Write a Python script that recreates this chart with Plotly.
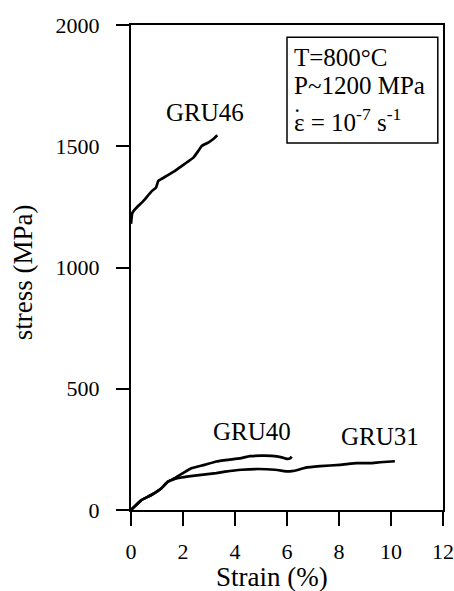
import plotly.graph_objects as go

# GRU46
gru46_strain = [0.0, 0.05, 0.15, 0.47, 0.80, 0.96, 1.05, 1.18, 1.63, 2.14, 2.40, 2.59, 2.72, 2.97, 3.19, 3.32]
gru46_stress = [1180, 1225, 1240, 1274, 1315, 1329, 1357, 1366, 1394, 1433, 1453, 1481, 1501, 1515, 1532, 1545]

# GRU40
gru40_strain = [0.0, 0.40, 0.78, 1.17, 1.42, 1.68, 2.0, 2.32, 2.83, 3.28, 3.74, 4.19, 4.58, 5.0, 5.41, 5.80, 5.99, 6.12, 6.18]
gru40_stress = [0, 41, 62, 90, 117, 131, 152, 172, 186, 200, 207, 213, 222, 224, 223, 217, 211, 213, 220]

# GRU31
gru31_strain = [0.0, 0.40, 0.78, 1.17, 1.42, 1.68, 1.94, 2.45, 3.28, 3.62, 4.26, 4.90, 5.54, 6.05, 6.18, 6.44, 6.69, 7.27, 8.04, 8.68, 9.19, 9.58, 10.15]
gru31_stress = [0, 41, 62, 90, 117, 128, 134, 142, 152, 158, 166, 169, 166, 159, 160, 166, 174, 181, 186, 193, 193, 197, 201]

x_ticks = [0, 2, 4, 6, 8, 10, 12]
y_ticks = [0, 500, 1000, 1500, 2000]

FONT = "Liberation Serif, Times New Roman, serif"

fig = go.Figure()
for xs, ys in [(gru46_strain, gru46_stress), (gru40_strain, gru40_stress), (gru31_strain, gru31_stress)]:
    fig.add_trace(go.Scatter(x=xs, y=ys, mode="lines",
                             line=dict(color="black", width=2.7, shape="spline", smoothing=0.4),
                             showlegend=False, hoverinfo="skip"))

labels = [("GRU46", 2.85, 1640), ("GRU40", 4.65, 322), ("GRU31", 9.58, 302)]
for txt, lx, ly in labels:
    fig.add_annotation(x=lx, y=ly, text=txt, showarrow=False,
                       font=dict(family=FONT, size=25, color="black"))

# condition box
fig.add_shape(type="rect", x0=6.0, x1=11.8, y0=1513, y1=1950,
              line=dict(color="black", width=1.5), fillcolor="white", layer="above")
box_lines = [("T=800°C", 1864), ("P~1200 MPa", 1752), ("ε = 10<sup>-7</sup> s<sup>-1</sup>", 1610)]
for txt, ty in box_lines:
    fig.add_annotation(x=6.2, y=ty, text=txt, showarrow=False, xanchor="left",
                       font=dict(family=FONT, size=25, color="black"))
# dot over epsilon
fig.add_annotation(x=6.39, y=1620, text="˙", showarrow=False, xanchor="center",
                   font=dict(family=FONT, size=25, color="black"))

# axis titles
fig.add_annotation(xref="paper", yref="paper", x=0.452, y=0, yshift=-67, yanchor="middle",
                   text="Strain (%)", showarrow=False,
                   font=dict(family=FONT, size=27, color="black"))
fig.add_annotation(xref="paper", yref="paper", x=-108 / 312, y=0.49, xanchor="center", yanchor="middle",
                   text="stress (MPa)", textangle=-90, showarrow=False,
                   font=dict(family=FONT, size=27, color="black"))

fig.update_xaxes(range=[0, 12], tickvals=x_ticks, ticktext=[str(v) for v in x_ticks],
                 showline=True, linecolor="black", linewidth=2, mirror=True,
                 ticks="outside", ticklen=14, tickwidth=2, tickcolor="black",
                 showgrid=False, zeroline=False,
                 tickfont=dict(family=FONT, size=22, color="black"),
                 ticklabelstandoff=7)
fig.update_yaxes(range=[0, 2000], tickvals=y_ticks, ticktext=[str(v) for v in y_ticks],
                 showline=True, linecolor="black", linewidth=2, mirror=True,
                 ticks="outside", ticklen=13, tickwidth=2, tickcolor="black",
                 showgrid=False, zeroline=False,
                 tickfont=dict(family=FONT, size=22, color="black"),
                 ticklabelstandoff=12)

fig.update_layout(width=454, height=591, margin=dict(l=131, r=11, t=25, b=81, autoexpand=False),
                  plot_bgcolor="white", paper_bgcolor="white")

fig.write_html("out.html", config={"displayModeBar": False},
               post_script="document.body.style.margin='0';document.body.style.overflow='hidden';")
